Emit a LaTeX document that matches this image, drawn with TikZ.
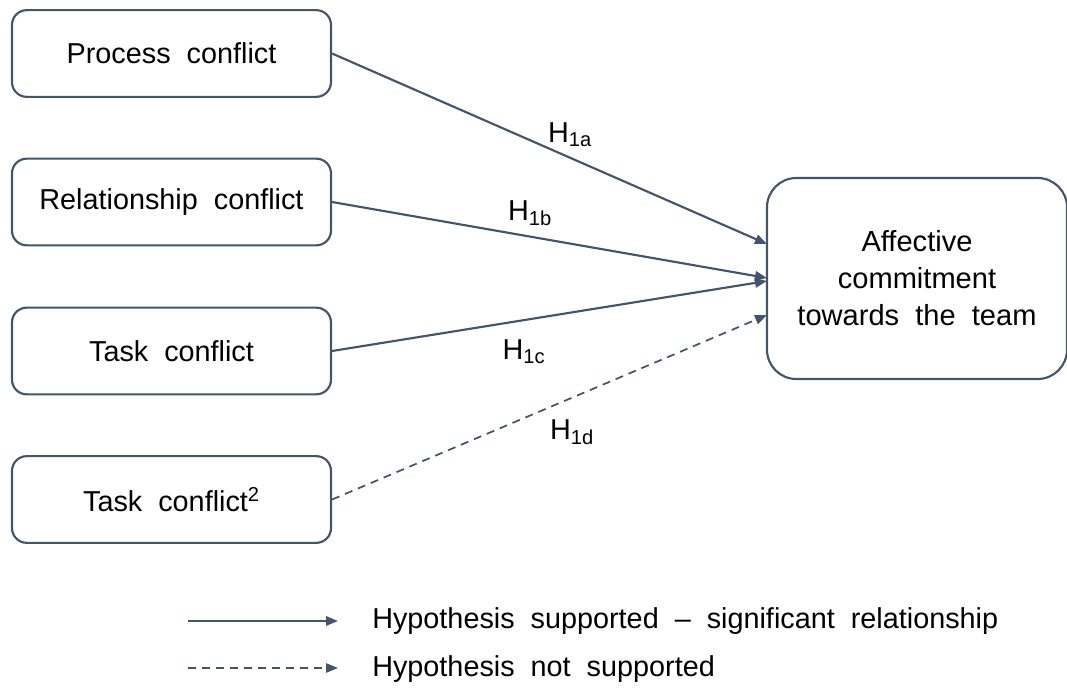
\documentclass[tikz,border=0pt]{standalone}
\usepackage{fontspec}
\setmainfont{Liberation Sans}
\usetikzlibrary{arrows.meta}
\definecolor{slate}{HTML}{44546A}
\begin{document}
\begin{tikzpicture}[x=0.75pt,y=-0.75pt,
  box/.style={draw=slate,line width=1.6pt,rounded corners=11pt,minimum width=239.25pt,minimum height=65pt,inner sep=0pt,font=\fontsize{21.6}{25}\selectfont},
  conn/.style={draw=slate,line width=1.6pt,-{Triangle[length=9pt,width=7pt]}},
  dconn/.style={conn,line width=1.3pt,dash pattern=on 6pt off 4.5pt},
  hlab/.style={font=\fontsize{21.6}{25}\selectfont,inner sep=0pt},
  txt/.style={font=\fontsize{21.6}{25}\selectfont,inner sep=0pt,anchor=west}]
\useasboundingbox (0,0) rectangle (1067,688);
\node[box] (proc) at (171.5,53.5) {Process\ \ conflict};
\node[box] (rel) at (171.5,202) {Relationship\ \ conflict};
\node[box] (task) at (171.5,351) {Task\ \ conflict};
\node[box] (task2) at (171.5,499.5) {Task\ \ conflict\textsuperscript{2}};
\node[draw=slate,line width=1.6pt,rounded corners=22pt,minimum width=225pt,minimum height=150.75pt,inner sep=0pt,align=center,font=\fontsize{21.8}{27.75}\selectfont] (aff) at (917,278.5) {Affective\\commitment\\towards\ \ the\ \ team};
\coordinate (e1) at (767,244);
\coordinate (e2) at (767,278);
\coordinate (e3) at (767,281);
\coordinate (e4) at (767,315);
\draw[conn] (proc.east) -- (e1);
\draw[conn] (rel.east) -- (e2);
\draw[conn] (task.east) -- (e3);
\draw[dconn] (task2.east) -- (e4);
\node[hlab] (h1) at (570,135) {H\textsubscript{1a}};
\node[hlab] (h2) at (530,213) {H\textsubscript{1b}};
\node[hlab] (h3) at (524,352) {H\textsubscript{1c}};
\node[hlab] (h4) at (572,432) {H\textsubscript{1d}};
\coordinate (l1a) at (188,621);
\coordinate (l1b) at (338,621);
\coordinate (l2a) at (188,668);
\coordinate (l2b) at (338,668);
\draw[conn] (l1a) -- (l1b);
\draw[dconn] (l2a) -- (l2b);
\node[txt] (t1) at (372,621) {Hypothesis\ \ supported\ \ –\ \ significant\ \ relationship};
\node[txt] (t2) at (372,669) {Hypothesis\ \ not\ \ supported};
\end{tikzpicture}
\end{document}
